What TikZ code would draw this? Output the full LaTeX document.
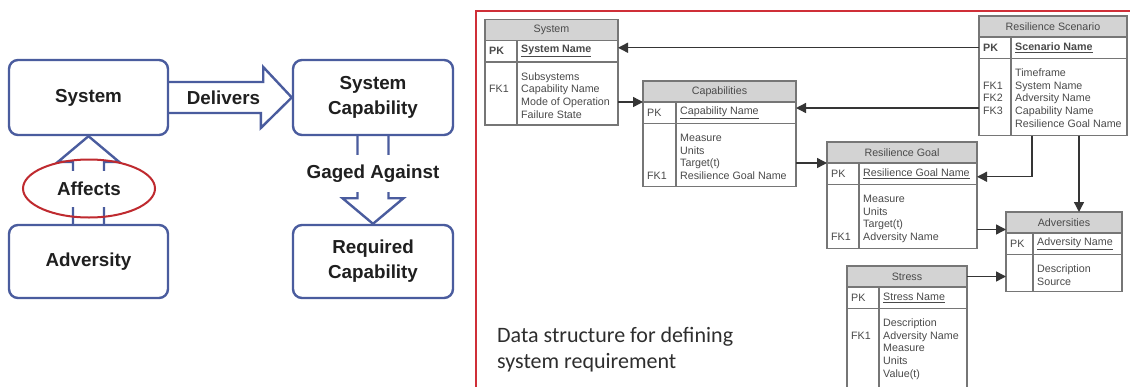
\documentclass[tikz,border=0pt]{standalone}
\usepackage{fontspec}
\setmainfont{Liberation Sans}
\newfontfamily\captionfont{Carlito}
\usetikzlibrary{arrows.meta,calc}

\definecolor{boxblue}{HTML}{4A5C9E}
\definecolor{framered}{HTML}{CF2F38}
\definecolor{ellred}{HTML}{BF2A2F}
\definecolor{erline}{HTML}{767676}
\definecolor{erfill}{HTML}{D3D3D3}
\definecolor{ertext}{HTML}{4A4A4A}
\definecolor{link}{HTML}{353535}

\tikzset{
  concept/.style={draw=boxblue, line width=2.4pt, rounded corners=9pt, fill=white,
    minimum width=159pt, minimum height=75pt, align=center,
    font=\fontsize{18.8}{25}\selectfont\bfseries, text=black!88},
  blockarrow/.style={draw=boxblue, line width=2.4pt, line join=miter},
  arrowlabel/.style={font=\fontsize{18.8}{25}\selectfont\bfseries, text=black!88, inner sep=2pt},
  erbox/.style={draw=erline, line width=1.2pt, anchor=north west, inner sep=0pt, outer sep=0pt},
  erhead/.style={erbox, fill=erfill},
  ertxt/.style={font=\fontsize{10.7}{12.7}\selectfont, text=ertext, inner sep=0pt, align=left},
  fk/.style={draw=link, line width=1.4pt, -{Triangle[length=10pt,width=10pt]}},
  frame/.style={draw=framered, line width=2pt},
  caption/.style={font=\captionfont\fontsize{22}{26}\selectfont, text=black!82, inner sep=0pt, align=left}
}

% table: name, x, y, width, key column width, body height, title, primary key tag, primary key name
\newcommand\ertable[9]{%
  \node[erhead, minimum width=#4pt, minimum height=21pt] (#1-h) at (#2,#3) {};
  \node[ertxt] at (#1-h.center) {#7};
  \node[erbox, minimum width=#4pt, minimum height=21.5pt] (#1-pk) at (#1-h.south west) {};
  \node[erbox, minimum width=#4pt, minimum height=#6pt] (#1-b) at (#1-pk.south west) {};
  \draw[erline, line width=1.2pt] ($(#1-pk.north west)+(#5,0)$) -- ($(#1-b.south west)+(#5,0)$);
  \node[ertxt, anchor=west] at ($(#1-pk.west)+(4,0)$) {#8};
  \node[ertxt, anchor=west] at ($(#1-pk.west)+(#5+4,0)$) {#9};
}
% body columns of a table: name, key column width, key lines, attribute lines
\newcommand\erbody[4]{%
  \node[ertxt, anchor=north west] (#1-keys) at ($(#1-b.north west)+(4,9)$) {\strut #3};
  \node[ertxt, anchor=north west] (#1-attrs) at ($(#1-b.north west)+(#2+4,9)$) {\strut #4};
}

\begin{document}
\begin{tikzpicture}[x=1pt, y=-1pt]
\useasboundingbox[fill=white] (0,0) rectangle (1130,386);

% ---------------- concept diagram ----------------
\node[concept] (sysL) at (88.5,97.5) {System};
\node[concept, minimum width=160pt] (capL) at (373,97.5) {System\\Capability};
\node[concept, minimum height=73pt] (advL) at (88.5,261.5) {Adversity};
\node[concept, minimum width=160pt, minimum height=73pt] (reqL) at (373,261.5) {Required\\Capability};

% Delivers
\draw[blockarrow] ($(sysL.east)+(0,-15.5)$) -- ++(94,0) -- ++(0,-15) -- (capL.west)
  -- ($(capL.west)+(-31,30.5)$) -- ++(0,-15) -- ($(sysL.east)+(0,15.5)$);
\node[arrowlabel] (delivers) at (223.5,98) {Delivers};

% Affects
\draw[blockarrow] ($(advL.north)+(-15.5,0)$) -- ++(0,-62) -- ++(-15,0) -- (sysL.south)
  -- ($(advL.north)+(30.5,-62)$) -- ++(-15,0) -- ($(advL.north)+(15.5,0)$);
\node[arrowlabel, fill=white, minimum height=36pt] (affects) at (89,188.5) {Affects};
\draw[ellred, line width=2pt] (affects.center) ellipse [x radius=66, y radius=29];

% Gaged Against
\draw[blockarrow] ($(capL.south)+(-15.5,0)$) -- ++(0,62) -- ++(-15,0) -- (reqL.north)
  -- ($(capL.south)+(30.5,62)$) -- ++(-15,0) -- ($(capL.south)+(15.5,0)$);
\node[arrowlabel, fill=white, minimum height=37pt] (gaged) at (373,173.5) {Gaged Against};

% ---------------- data structure ----------------
\draw[frame] (476,392) -- (476,11) -- (1136,11);

\ertable{sys}{485}{19.5}{133}{32}{63}{System}{\textbf{PK}}{\textbf{\underline{System Name}}}
\erbody{sys}{32}{\\FK1}{Subsystems\\Capability Name\\Mode of Operation\\Failure State}

\ertable{cap}{643}{81}{153}{33}{63}{Capabilities}{PK}{\underline{Capability Name}}
\erbody{cap}{33}{\\\\\\FK1}{Measure\\Units\\Target(t)\\Resilience Goal Name}

\ertable{rs}{979}{16}{148}{32}{77}{Resilience Scenario}{\textbf{PK}}{\textbf{\underline{Scenario Name}}}
\erbody{rs}{32}{\\FK1\\FK2\\FK3}{Timeframe\\System Name\\Adversity Name\\Capability Name\\Resilience Goal Name}

\ertable{rg}{827}{142}{150}{32}{64}{Resilience Goal}{PK}{\underline{Resilience Goal Name}}
\erbody{rg}{32}{\\\\\\FK1}{Measure\\Units\\Target(t)\\Adversity Name}

\ertable{adv}{1006}{212}{116}{27}{37}{Adversities}{PK}{\underline{Adversity Name}}
\erbody{adv}{27}{}{Description\\Source}

\ertable{st}{847}{266}{120}{32}{84}{Stress}{PK}{\underline{Stress Name}}
\erbody{st}{32}{\\FK1}{Description\\Adversity Name\\Measure\\Units\\Value(t)}

% foreign key links
\coordinate (rs-cap) at ($(cap-pk.north east)+(0,6)$);
\coordinate (rs-rg) at ($(rg-pk.east)+(0,3)$);
\coordinate (rg-adv) at ($(adv-h.south west)+(0,-3.5)$);
\coordinate (rs-out1) at ($(rs-b.south west)+(53,0)$);
\coordinate (rs-out2) at ($(rs-b.south west)+(100,0)$);

\draw[fk] (rs-pk.west) -- (rs-pk.west -| sys-pk.east);
\draw[fk] (sys-b.east |- cap-h.south) -- (cap-h.south west);
\draw[fk] (rs-b.west |- rs-cap) -- (rs-cap);
\draw[fk] (cap-b.east |- rg-h.south) -- (rg-h.south west);
\draw[fk] (rs-out1) |- (rs-rg);
\draw[fk] (rs-out2) -- (rs-out2 |- adv-h.north);
\draw[fk] (rg-b.east |- rg-adv) -- (rg-adv);
\draw[fk] (st-h.east) -- (st-h.east -| adv-b.west);

\node[caption, anchor=north west] (note) at (497,327) {Data structure for defining\\system requirement};
\end{tikzpicture}
\end{document}
